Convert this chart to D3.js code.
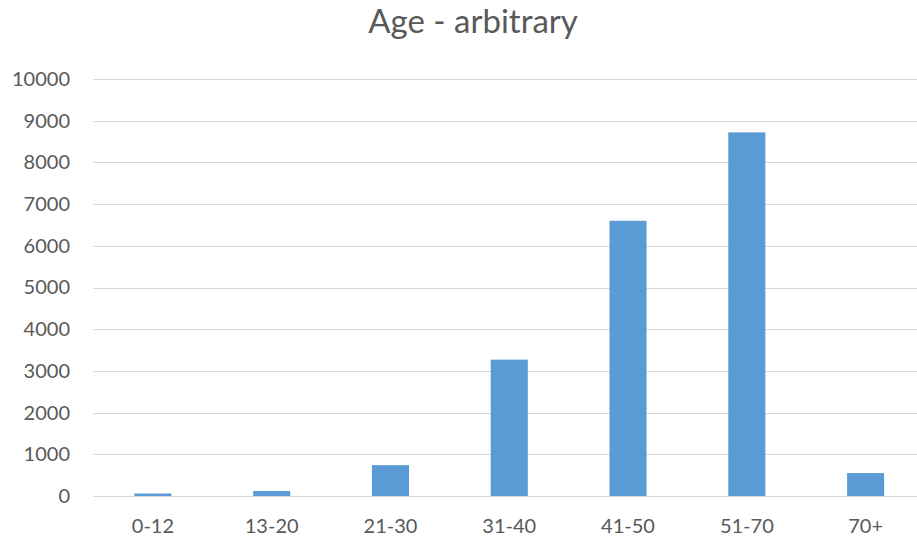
<!DOCTYPE html>
<html>
<head>
<meta charset="utf-8">
<script src="https://cdn.jsdelivr.net/npm/d3@7"></script>
<style>
  html, body { margin: 0; padding: 0; background: #fff; overflow: hidden; }
  svg { display: block; }
</style>
</head>
<body>
<svg id="chart" width="917" height="543"></svg>
<script>
const title = "Age - arbitrary";
const categories = ["0-12", "13-20", "21-30", "31-40", "41-50", "51-70", "70+"];
const values = [60, 120, 740, 3270, 6600, 8720, 550];
const yTicks = [0, 1000, 2000, 3000, 4000, 5000, 6000, 7000, 8000, 9000, 10000];

const svg = d3.select("#chart");
const font = "Lato, 'Open Sans', sans-serif";

const x = d3.scaleBand().domain(categories).range([93.5, 925]).paddingInner(0.688).paddingOuter(0.344);
const y = d3.scaleLinear().domain([0, 10000]).range([496, 79]);

// gridlines
svg.append("g").selectAll("line").data(yTicks).join("line")
  .attr("x1", 93.5).attr("x2", 925)
  .attr("y1", d => Math.round(y(d)) + 0.5).attr("y2", d => Math.round(y(d)) + 0.5)
  .attr("stroke", "#d9d9d9").attr("stroke-width", 1);

// y axis labels
const yAxis = d3.axisLeft(y).tickValues(yTicks).tickSize(0).tickPadding(0).tickFormat(d3.format("d"));
const yg = svg.append("g").attr("transform", "translate(70,0)").call(yAxis);
yg.select(".domain").remove();
yg.selectAll("text").attr("font-family", font).attr("font-size", 20).attr("fill", "#595959");

// x axis labels
const xAxis = d3.axisBottom(x).tickSize(0).tickPadding(0);
const xg = svg.append("g").attr("transform", "translate(0,496)").call(xAxis);
xg.select(".domain").remove();
xg.selectAll("text").attr("font-family", font).attr("font-size", 20).attr("fill", "#595959")
  .attr("dy", null).attr("y", 37);

// bars
svg.append("g").selectAll("rect").data(categories).join("rect")
  .attr("x", d => x(d))
  .attr("width", x.bandwidth())
  .attr("y", (d, i) => y(values[i]))
  .attr("height", (d, i) => y(0) - y(values[i]))
  .attr("fill", "#5b9bd5");

// title
svg.append("text")
  .attr("x", 473).attr("y", 33)
  .attr("text-anchor", "middle")
  .attr("font-family", font).attr("font-size", 33)
  .attr("fill", "#595959")
  .text(title);
</script>
</body>
</html>
